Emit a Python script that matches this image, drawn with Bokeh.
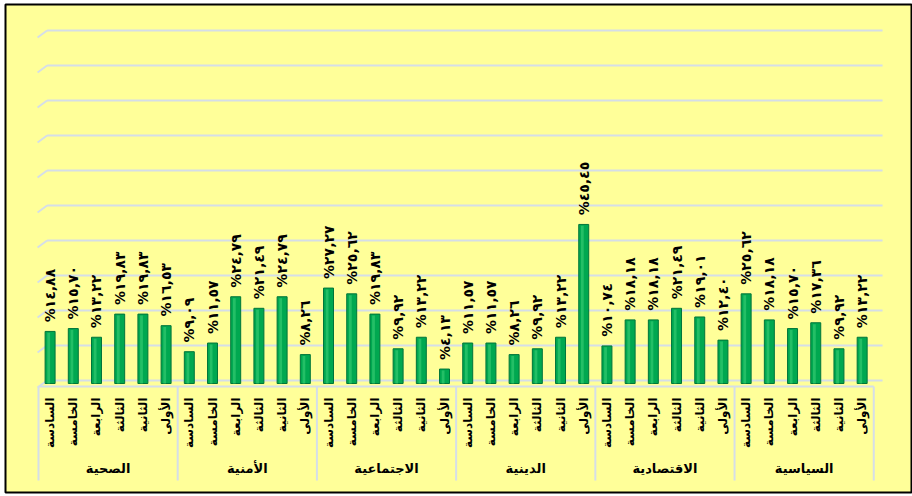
from bokeh.plotting import figure
from bokeh.models import Range1d, ColumnDataSource
from bokeh.core.properties import value
from bokeh.embed import file_html
from bokeh.resources import INLINE

groups = ["الصحية", "الأمنية", "الاجتماعية", "الدينية", "الاقتصادية", "السياسية"]
subs = ["السادسة", "الخامسة", "الرابعة", "الثالثة", "الثانية", "الأولى"]

health = [14.88, 15.70, 13.22, 19.83, 19.83, 16.53]
security = [9.09, 11.57, 24.79, 21.49, 24.79, 8.26]
social = [27.27, 25.62, 19.83, 9.92, 13.22, 4.13]
religious = [11.57, 11.57, 8.26, 9.92, 13.22, 45.45]
economic = [10.74, 18.18, 18.18, 21.49, 19.01, 12.40]
political = [25.62, 18.18, 15.70, 17.36, 9.92, 13.22]

series = [health, security, social, religious, economic, political]
y_ticks = list(range(0, 101, 10))

AR = str.maketrans("0123456789.", "٠١٢٣٤٥٦٧٨٩,")

def fmt(v):
    return "%" + f"{v:.2f}".translate(AR)

xs, tops, labels, sublabels = [], [], [], []
for g, vals in enumerate(series):
    for s, v in enumerate(vals):
        xs.append(g * len(subs) + s + 0.5)
        tops.append(v)
        labels.append(fmt(v))
        sublabels.append(subs[s])

n = len(xs)
src = ColumnDataSource(dict(x=xs, top=tops, lab=labels, sub=sublabels,
                            ly=[t + 2.6 for t in tops]))

W, H = 912, 496
p = figure(width=W, height=H, output_backend="svg", toolbar_location=None,
           x_range=Range1d(-1.422, 37.67), y_range=Range1d(-31.14, 108.29),
           min_border=0, min_border_left=5, min_border_right=0,
           min_border_top=4, min_border_bottom=4)
p.axis.visible = False
p.grid.visible = False
p.background_fill_color = "#FFFF99"
p.border_fill_color = "white"
p.outline_line_color = "black"
p.outline_line_width = 2

grid_col = "#D5DEE8"
wall = 0.86  # back wall sits a little higher than the bar floor
# back-wall gridlines with a small 3D slant on the left
p.segment(x0=[0.37] * len(y_ticks), y0=[t + wall for t in y_ticks],
          x1=[n + 0.38] * len(y_ticks), y1=[t + wall for t in y_ticks],
          line_color=grid_col, line_width=2)
p.segment(x0=[-0.04] * len(y_ticks), y0=[t + wall - 2 for t in y_ticks],
          x1=[0.37] * len(y_ticks), y1=[t + wall for t in y_ticks],
          line_color=grid_col, line_width=2)

# bars
p.vbar(x="x", top="top", bottom=0, width=0.43, source=src,
       fill_color="#00A850", line_color="#00753A", line_width=1)
p.vbar(x=[x - 0.06 for x in xs], top=[t - 0.4 for t in tops], bottom=0, width=0.12,
       fill_color="#2CC46C", line_color=None, fill_alpha=0.8)

# value labels
p.text(x="x", y="ly", text="lab", source=src, angle=1.5708,
       text_align="left", text_baseline="middle",
       text_font=value("DejaVu Sans"), text_font_size="14px", text_font_style="bold",
       text_color="black")

# category axis
p.segment(x0=[0], y0=[-0.86], x1=[n], y1=[-0.86], line_color=grid_col, line_width=2)
sep_x = [g * len(subs) for g in range(len(groups) + 1)]
p.segment(x0=sep_x, y0=[-0.86] * len(sep_x), x1=sep_x, y1=[-27.7] * len(sep_x),
          line_color=grid_col, line_width=2)

p.text(x="x", y=-4.0, text="sub", source=src, angle=1.5708,
       text_align="right", text_baseline="middle",
       text_font=value("DejaVu Sans"), text_font_size="12px", text_font_style="bold",
       text_color="black")

gx = [g * len(subs) + len(subs) / 2 for g in range(len(groups))]
p.text(x=gx, y=[-24.3] * len(groups), text=groups,
       text_align="center", text_baseline="middle",
       text_font=value("DejaVu Sans"), text_font_size="13px", text_font_style="bold",
       text_color="black")

open("out.html", "w").write(file_html(p, INLINE))
